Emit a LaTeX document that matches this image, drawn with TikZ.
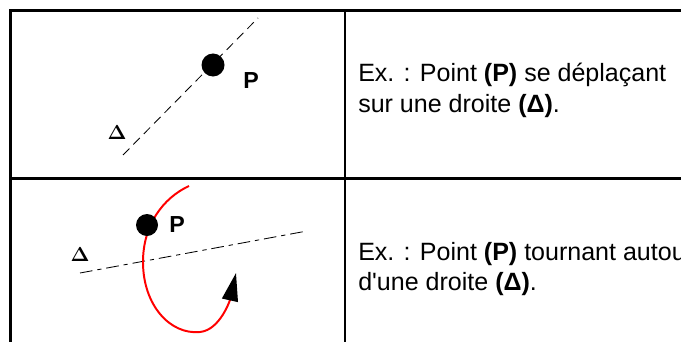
\documentclass[tikz,border=0pt]{standalone}
\usepackage{fontspec}
\setmainfont{Liberation Sans}
\usetikzlibrary{arrows.meta}

\begin{document}
\begin{tikzpicture}[x=0.025cm,y=-0.025cm,
  frame/.style={line width=1.5pt},
  axis/.style={line width=0.6pt},
  desc/.style={anchor=base west,inner sep=0pt,font=\fontsize{17.8}{22}\selectfont},
  dot/.style={circle,fill=black,minimum size=0.575cm,inner sep=0pt},
  plabel/.style={font=\fontsize{16.5}{18}\selectfont\bfseries,inner sep=0pt},
  dlabel/.style={font=\fontsize{14}{16}\selectfont\boldmath,inner sep=0pt}]
  \useasboundingbox (0,0) rectangle (681,341);
  \clip (0,0) rectangle (681,341);

  % table frame
  \coordinate (TL) at (10.5,10.5);
  \coordinate (TR) at (690,10.5);
  \coordinate (ML) at (10.5,178.5);
  \coordinate (MR) at (690,178.5);
  \coordinate (BL) at (10.5,350);
  \coordinate (CT) at (345,10.5);
  \coordinate (CB) at (345,350);
  \draw[frame] (TR)--(TL)--(BL) (ML)--(MR) (CT)--(CB);

  % point moving along a line
  \coordinate (D1a) at (123,155);
  \coordinate (D1b) at (258,18);
  \draw[axis,dash pattern=on 6.5pt off 4pt] (D1a)--(D1b);
  \node[dot] (P1) at (213,65) {};
  \node[plabel] (P1l) at (251,81) {P};
  \node[dlabel] (L1) at (117,133) {$\Delta$};

  % point turning round a line
  \coordinate (D2a) at (80,273);
  \coordinate (D2b) at (307,231);
  \draw[axis,dash pattern=on 9pt off 3.5pt on 3pt off 3.5pt] (D2a)--(D2b);
  \coordinate (R0) at (189,186);
  \coordinate (R1) at (143,262);
  \coordinate (R2) at (200,332);
  \coordinate (R3) at (236,273);
  \draw[red,line width=1.4pt,-{Triangle[length=0.7cm,width=0.4cm,color=black]}]
    (R0) .. controls (163,198) and (143,225) .. (R1)
         .. controls (143,305) and (170,335) .. (R2)
         .. controls (220,330) and (230,300) .. (R3);
  \node[dot,minimum size=0.55cm] (P2) at (147,225) {};
  \node[plabel] (P2l) at (177,225) {P};
  \node[dlabel] (L2) at (80,255) {$\Delta$};

  % texts
  \node[desc] (T1a) at (358,81) {Ex. : Point \textbf{(P)} se déplaçant};
  \node[desc] (T1b) at (358,112) {sur une droite \textbf{(Δ)}.};
  \node[desc] (T2a) at (358,260) {Ex. : Point \textbf{(P)} tournant autour};
  \node[desc] (T2b) at (358,290) {d\textquotesingle une droite \textbf{(Δ)}.};
\end{tikzpicture}
\end{document}
